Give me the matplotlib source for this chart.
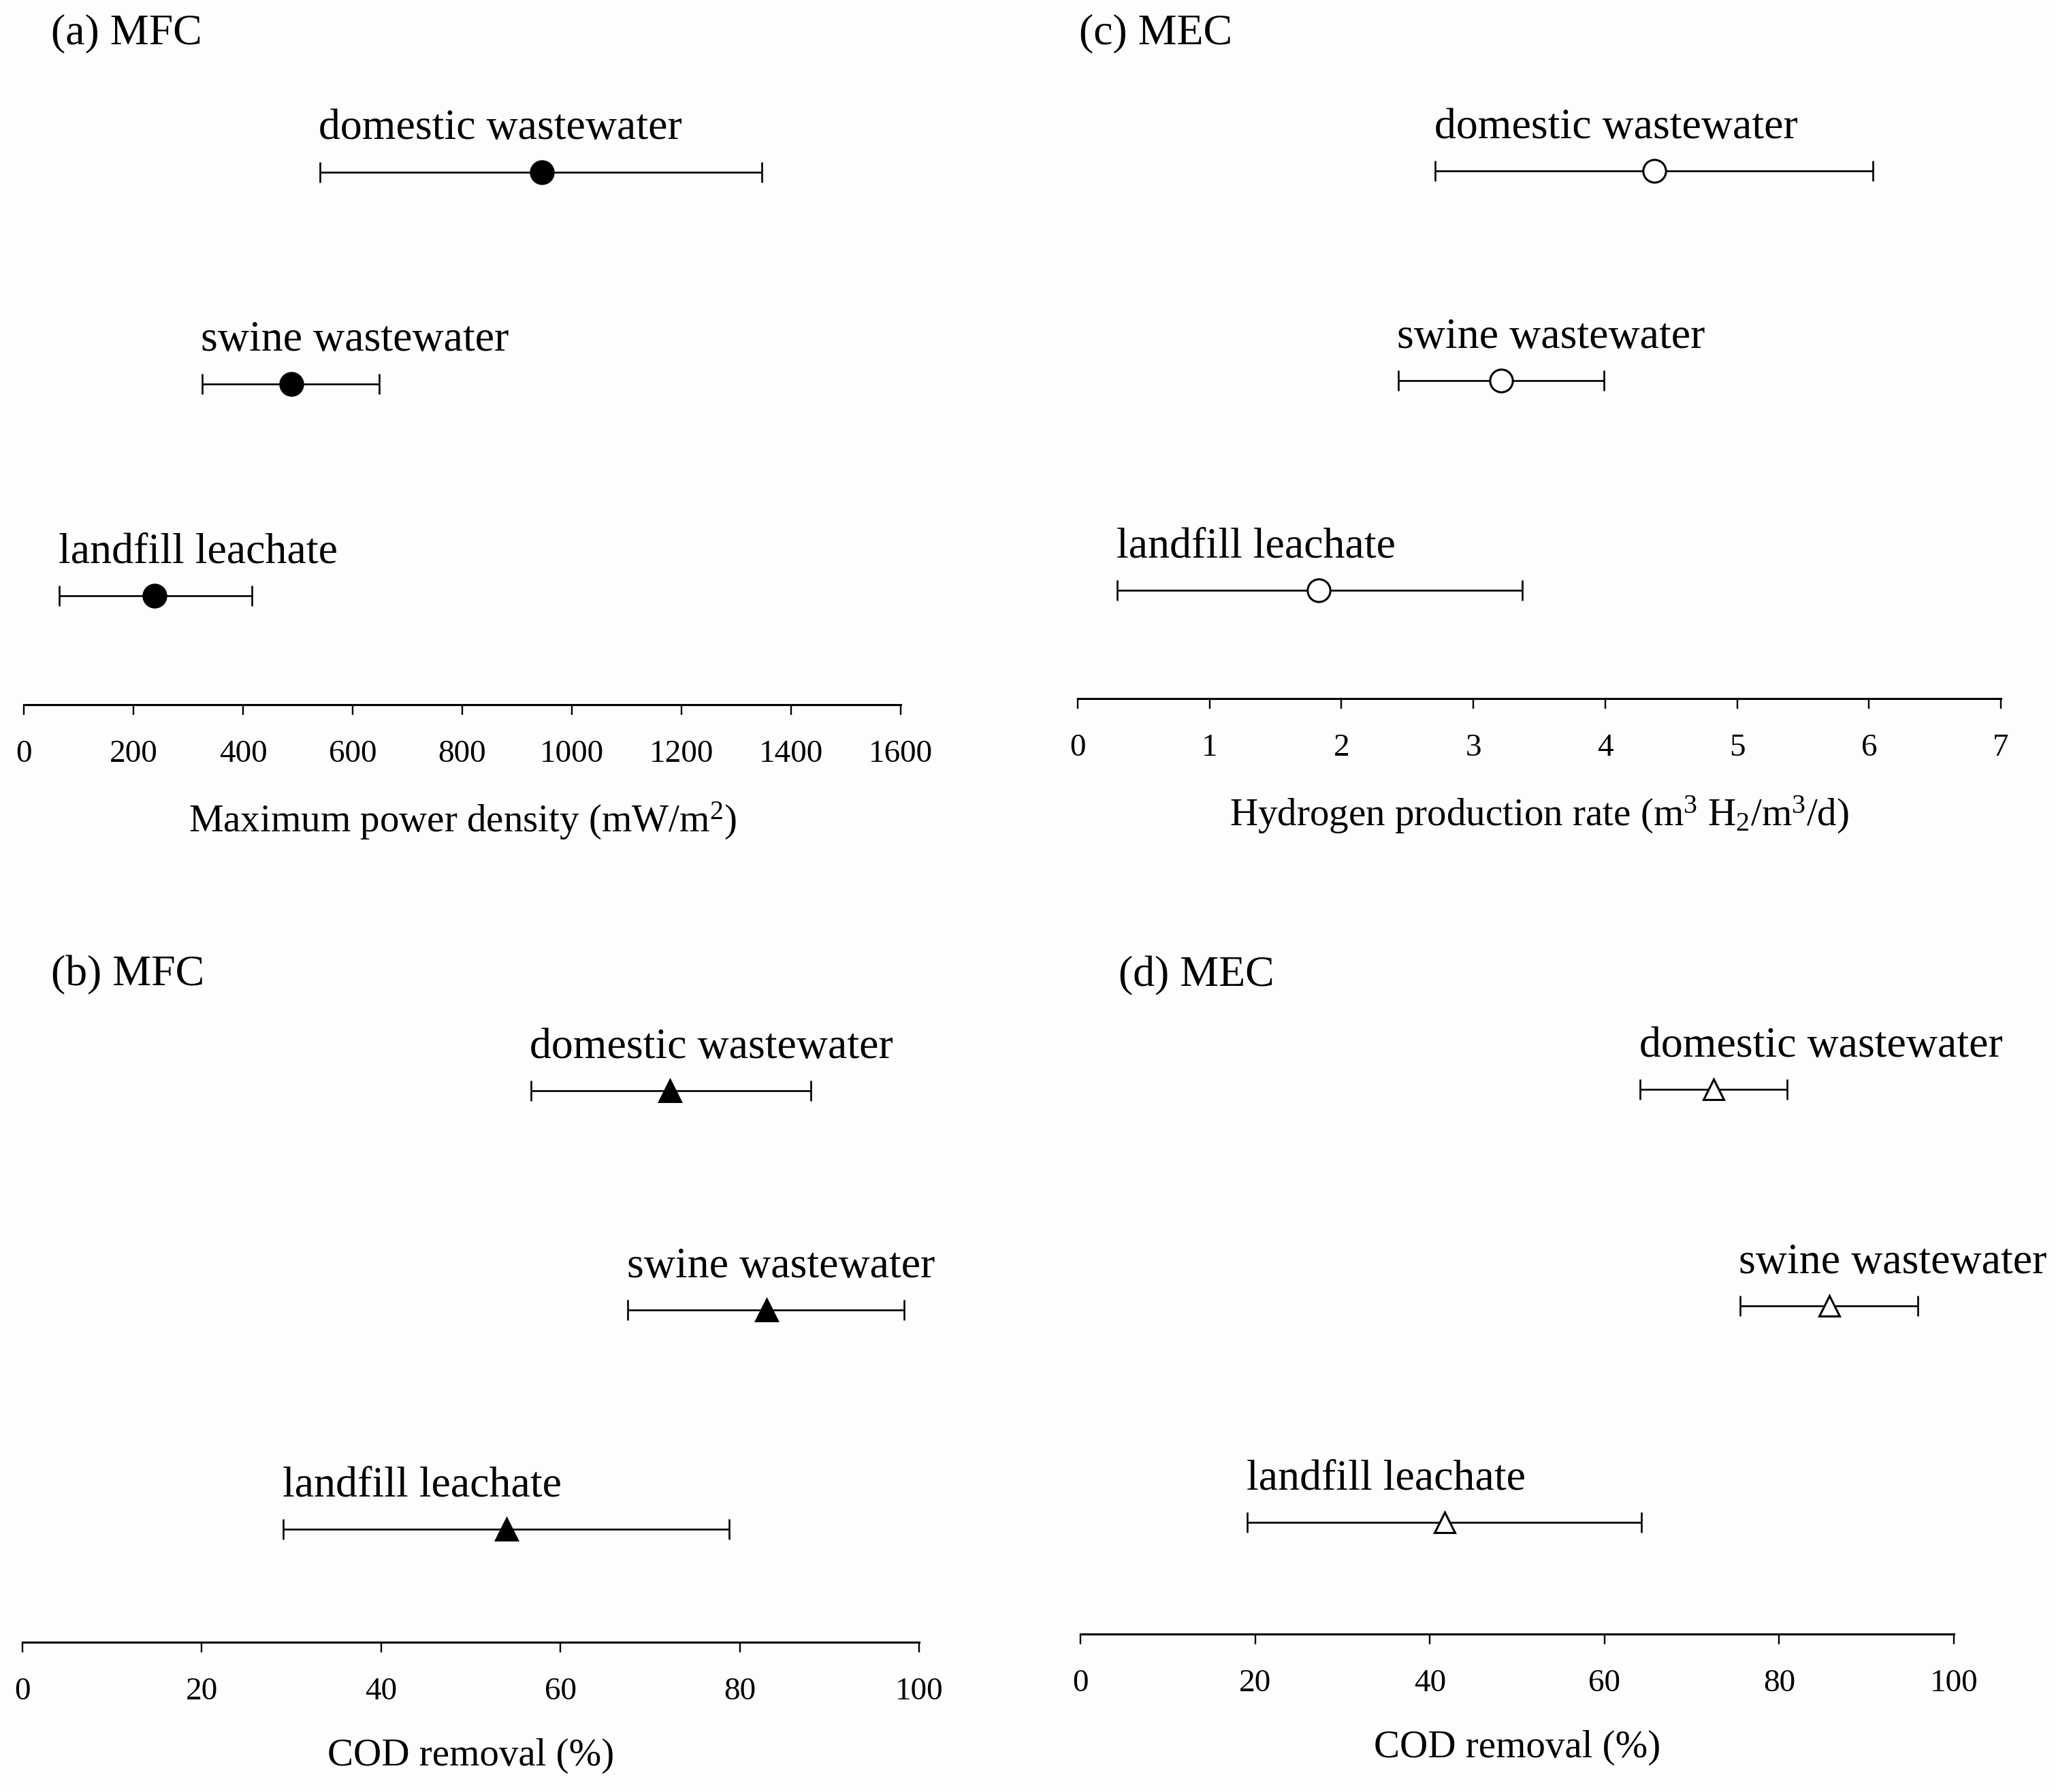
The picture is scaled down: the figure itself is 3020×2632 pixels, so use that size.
import matplotlib
matplotlib.use("Agg")
import matplotlib.pyplot as plt

plt.rcParams['font.family'] = ['Liberation Serif', 'DejaVu Serif']
plt.rcParams['mathtext.fontset'] = 'custom'
plt.rcParams['mathtext.rm'] = 'Liberation Serif'
plt.rcParams['mathtext.it'] = 'Liberation Serif:italic'

# ---------------- data ----------------
categories = ["domestic wastewater", "swine wastewater", "landfill leachate"]

# (a) MFC maximum power density (mW/m2): lower bound, mean, upper bound
mfc_power_low = [540, 325, 65]
mfc_power_mean = [945, 488, 239]
mfc_power_high = [1347, 649, 416]

# (b) MFC COD removal (%)
mfc_cod_low = [56.7, 67.5, 29.1]
mfc_cod_mean = [72.2, 83.0, 54.0]
mfc_cod_high = [87.9, 98.3, 78.8]

# (c) MEC hydrogen production rate (m3 H2/m3/d)
mec_h2_low = [2.71, 2.43, 0.30]
mec_h2_mean = [4.37, 3.21, 1.83]
mec_h2_high = [6.03, 3.99, 3.37]

# (d) MEC COD removal (%)
mec_cod_low = [64.1, 75.5, 19.1]
mec_cod_mean = [72.5, 85.7, 41.7]
mec_cod_high = [80.9, 95.9, 64.2]

ticks_power = [0, 200, 400, 600, 800, 1000, 1200, 1400, 1600]
ticks_h2 = [0, 1, 2, 3, 4, 5, 6, 7]
ticks_cod = [0, 20, 40, 60, 80, 100]

# ---------------- figure ----------------
W, H = 3020, 2632
BG = '#fdfdfc'
fig = plt.figure(figsize=(W / 100, H / 100), dpi=100)
fig.patch.set_facecolor(BG)

rows = [3, 2, 1]
Y_LO, Y_HI = 0.485, 3.5

panels = [
    dict(title='(a) MFC', tx=75, ty=64, left=35, right=1323, yaxis=1035, sp=311,
         low=mfc_power_low, mean=mfc_power_mean, high=mfc_power_high,
         xlim=(0, 1600), ticks=ticks_power, marker='o', mfc='black', ms=24,
         xlabel=r'Maximum power density (mW/m$^{\mathrm{2}}$)'),
    dict(title='(c) MEC', tx=1585, ty=64, left=1583, right=2939, yaxis=1026, sp=308,
         low=mec_h2_low, mean=mec_h2_mean, high=mec_h2_high,
         xlim=(0, 7), ticks=ticks_h2, marker='o', mfc='white', ms=24,
         xlabel=r'Hydrogen production rate (m$^{\mathrm{3}}$ H$_{\mathrm{2}}$/m$^{\mathrm{3}}$/d)'),
    dict(title='(b) MFC', tx=75, ty=1447, left=33, right=1350, yaxis=2412, sp=322,
         low=mfc_cod_low, mean=mfc_cod_mean, high=mfc_cod_high,
         xlim=(0, 100), ticks=ticks_cod, marker='^', mfc='black', ms=23,
         xlabel='COD removal (%)'),
    dict(title='(d) MEC', tx=1643, ty=1448, left=1587, right=2870, yaxis=2400, sp=318,
         low=mec_cod_low, mean=mec_cod_mean, high=mec_cod_high,
         xlim=(0, 100), ticks=ticks_cod, marker='^', mfc='white', ms=21,
         xlabel='COD removal (%)'),
]

for p in panels:
    height = (Y_HI - Y_LO) * p['sp']
    ax = fig.add_axes([p['left'] / W, (H - p['yaxis']) / H,
                       (p['right'] - p['left']) / W, height / H])
    ax.set_facecolor('none')
    low, mean, high = p['low'], p['mean'], p['high']
    xerr = [[m - l for m, l in zip(mean, low)], [h - m for h, m in zip(high, mean)]]
    ax.errorbar(mean, rows, xerr=xerr, fmt='none', ecolor='black',
                elinewidth=1.9, capsize=11, capthick=1.9, zorder=2)
    ax.plot(mean, rows, linestyle='none', marker=p['marker'], ms=p['ms'],
            mfc=p['mfc'], mec='black', mew=2.2, zorder=3)
    for name, l, r in zip(categories, low, rows):
        ax.annotate(name, xy=(l, r), xytext=(-1, 35), textcoords='offset points',
                    ha='left', va='baseline', fontsize=46, annotation_clip=False)
    ax.set_xlim(*p['xlim'])
    ax.set_ylim(Y_LO, Y_HI)
    ax.set_xticks(p['ticks'])
    ax.set_yticks([])
    for s in ['top', 'left', 'right']:
        ax.spines[s].set_visible(False)
    ax.spines['bottom'].set_linewidth(2.2)
    ax.tick_params(axis='x', direction='out', length=11, width=1.7,
                   labelsize=34, pad=26)
    ax.set_xlabel(p['xlabel'], fontsize=41, labelpad=34)
    fig.text(p['tx'] / W, 1 - p['ty'] / H, p['title'], fontsize=46,
             ha='left', va='baseline')

fig.savefig('out.png', dpi=100, facecolor=BG)
